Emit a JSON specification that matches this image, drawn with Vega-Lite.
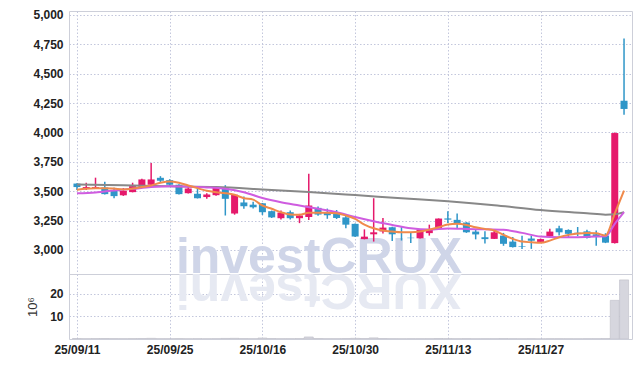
{
  "$schema": "https://vega.github.io/schema/vega-lite/v6.json",
  "background": "white",
  "padding": {"left": 26, "top": 8, "right": 9, "bottom": 5},
  "spacing": 0,
  "bounds": "flush",
  "config": {
    "view": {"stroke": "#cdcfd9", "strokeWidth": 1},
    "axis": {
      "labelFont": "Liberation Sans", "labelFontWeight": "bold", "labelFontSize": 12,
      "labelColor": "#222222", "ticks": false, "domain": false,
      "gridColor": "#c3c7dc", "gridDash": [1.5, 2], "gridWidth": 1, "labelPadding": 6
    }
  },
  "datasets": {
    "k": [
      {"d":"25/09/11","i":0,"o":3565,"h":3568,"l":3510,"c":3535,"v":0.20},
      {"d":"25/09/12","i":1,"o":3520,"h":3572,"l":3510,"c":3535,"v":0.15},
      {"d":"25/09/15","i":2,"o":3525,"h":3615,"l":3522,"c":3535,"v":0.18},
      {"d":"25/09/16","i":3,"o":3532,"h":3580,"l":3472,"c":3475,"v":0.22},
      {"d":"25/09/17","i":4,"o":3503,"h":3530,"l":3440,"c":3458,"v":0.16},
      {"d":"25/09/18","i":5,"o":3465,"h":3527,"l":3460,"c":3503,"v":0.14},
      {"d":"25/09/19","i":6,"o":3492,"h":3572,"l":3490,"c":3543,"v":0.17},
      {"d":"25/09/22","i":7,"o":3537,"h":3605,"l":3535,"c":3600,"v":0.20},
      {"d":"25/09/23","i":8,"o":3555,"h":3740,"l":3548,"c":3600,"v":0.30},
      {"d":"25/09/24","i":9,"o":3614,"h":3628,"l":3578,"c":3589,"v":0.15},
      {"d":"25/09/25","i":10,"o":3594,"h":3602,"l":3543,"c":3555,"v":0.14},
      {"d":"25/09/26","i":11,"o":3555,"h":3560,"l":3472,"c":3475,"v":0.18},
      {"d":"25/09/29","i":12,"o":3483,"h":3543,"l":3480,"c":3523,"v":0.12},
      {"d":"25/09/30","i":13,"o":3478,"h":3537,"l":3438,"c":3440,"v":0.15},
      {"d":"25/10/01","i":14,"o":3450,"h":3483,"l":3435,"c":3472,"v":0.12},
      {"d":"25/10/02","i":15,"o":3466,"h":3535,"l":3462,"c":3532,"v":0.14},
      {"d":"25/10/10","i":16,"o":3525,"h":3551,"l":3293,"c":3435,"v":0.25},
      {"d":"25/10/13","i":17,"o":3310,"h":3475,"l":3300,"c":3470,"v":0.30},
      {"d":"25/10/14","i":18,"o":3404,"h":3455,"l":3350,"c":3372,"v":0.18},
      {"d":"25/10/15","i":19,"o":3385,"h":3410,"l":3352,"c":3363,"v":0.15},
      {"d":"25/10/16","i":20,"o":3397,"h":3400,"l":3298,"c":3321,"v":0.45},
      {"d":"25/10/17","i":21,"o":3330,"h":3335,"l":3272,"c":3277,"v":0.20},
      {"d":"25/10/20","i":22,"o":3270,"h":3335,"l":3258,"c":3318,"v":0.15},
      {"d":"25/10/21","i":23,"o":3321,"h":3335,"l":3258,"c":3270,"v":0.14},
      {"d":"25/10/22","i":24,"o":3270,"h":3307,"l":3228,"c":3293,"v":0.16},
      {"d":"25/10/23","i":25,"o":3280,"h":3648,"l":3255,"c":3378,"v":0.90},
      {"d":"25/10/24","i":26,"o":3358,"h":3370,"l":3290,"c":3301,"v":0.22},
      {"d":"25/10/27","i":27,"o":3321,"h":3352,"l":3265,"c":3295,"v":0.15},
      {"d":"25/10/28","i":28,"o":3315,"h":3340,"l":3263,"c":3272,"v":0.14},
      {"d":"25/10/29","i":29,"o":3277,"h":3290,"l":3185,"c":3215,"v":0.20},
      {"d":"25/10/30","i":30,"o":3222,"h":3225,"l":3110,"c":3114,"v":0.30},
      {"d":"25/10/31","i":31,"o":3092,"h":3175,"l":3090,"c":3113,"v":0.20},
      {"d":"25/11/03","i":32,"o":3133,"h":3440,"l":3071,"c":3150,"v":0.50},
      {"d":"25/11/04","i":33,"o":3157,"h":3272,"l":3140,"c":3190,"v":0.20},
      {"d":"25/11/05","i":34,"o":3193,"h":3198,"l":3077,"c":3133,"v":0.15},
      {"d":"25/11/06","i":35,"o":3150,"h":3198,"l":3080,"c":3145,"v":0.12},
      {"d":"25/11/07","i":36,"o":3104,"h":3150,"l":3058,"c":3100,"v":0.14},
      {"d":"25/11/10","i":37,"o":3099,"h":3176,"l":3097,"c":3173,"v":0.15},
      {"d":"25/11/11","i":38,"o":3143,"h":3215,"l":3122,"c":3173,"v":0.14},
      {"d":"25/11/12","i":39,"o":3181,"h":3268,"l":3180,"c":3267,"v":0.20},
      {"d":"25/11/13","i":40,"o":3268,"h":3330,"l":3230,"c":3258,"v":0.18},
      {"d":"25/11/14","i":41,"o":3256,"h":3310,"l":3178,"c":3222,"v":0.15},
      {"d":"25/11/17","i":42,"o":3233,"h":3236,"l":3145,"c":3150,"v":0.16},
      {"d":"25/11/18","i":43,"o":3156,"h":3175,"l":3090,"c":3132,"v":0.12},
      {"d":"25/11/19","i":44,"o":3108,"h":3158,"l":3055,"c":3092,"v":0.14},
      {"d":"25/11/20","i":45,"o":3094,"h":3165,"l":3092,"c":3150,"v":0.15},
      {"d":"25/11/21","i":46,"o":3122,"h":3145,"l":3035,"c":3052,"v":0.18},
      {"d":"25/11/24","i":47,"o":3071,"h":3110,"l":3020,"c":3024,"v":0.14},
      {"d":"25/11/25","i":48,"o":3033,"h":3120,"l":3008,"c":3028,"v":0.12},
      {"d":"25/11/26","i":49,"o":3097,"h":3122,"l":3009,"c":3078,"v":0.14},
      {"d":"25/11/27","i":50,"o":3068,"h":3097,"l":3064,"c":3092,"v":0.10},
      {"d":"25/11/28","i":51,"o":3117,"h":3180,"l":3108,"c":3156,"v":0.15},
      {"d":"25/12/01","i":52,"o":3184,"h":3205,"l":3122,"c":3150,"v":0.14},
      {"d":"25/12/02","i":53,"o":3170,"h":3175,"l":3110,"c":3137,"v":0.12},
      {"d":"25/12/03","i":54,"o":3147,"h":3195,"l":3118,"c":3142,"v":0.10},
      {"d":"25/12/04","i":55,"o":3158,"h":3172,"l":3098,"c":3102,"v":0.14},
      {"d":"25/12/05","i":56,"o":3133,"h":3165,"l":3036,"c":3112,"v":0.15},
      {"d":"25/12/08","i":57,"o":3122,"h":3142,"l":3058,"c":3062,"v":0.18},
      {"d":"25/12/09","i":58,"o":3058,"h":4000,"l":3055,"c":3995,"v":17.0},
      {"d":"25/12/10","i":59,"o":4270,"h":4800,"l":4150,"c":4200,"v":26.0}
    ],
    "ma": [
      {"s":"MA60","i":0,"v":3558},{"s":"MA60","i":5,"v":3550},{"s":"MA60","i":10,"v":3542},{"s":"MA60","i":15,"v":3535},
      {"s":"MA60","i":20,"v":3515},{"s":"MA60","i":25,"v":3493},{"s":"MA60","i":30,"v":3467},{"s":"MA60","i":35,"v":3440},
      {"s":"MA60","i":40,"v":3414},{"s":"MA60","i":45,"v":3381},{"s":"MA60","i":50,"v":3340},{"s":"MA60","i":55,"v":3312},
      {"s":"MA60","i":57,"v":3300},{"s":"MA60","i":58,"v":3303},{"s":"MA60","i":59,"v":3322},
      {"s":"MA20","i":0,"v":3482},{"s":"MA20","i":2,"v":3489},{"s":"MA20","i":4,"v":3506},{"s":"MA20","i":6,"v":3520},
      {"s":"MA20","i":8,"v":3535},{"s":"MA20","i":10,"v":3542},{"s":"MA20","i":12,"v":3538},{"s":"MA20","i":14,"v":3532},
      {"s":"MA20","i":16,"v":3520},{"s":"MA20","i":18,"v":3491},{"s":"MA20","i":20,"v":3442},{"s":"MA20","i":22,"v":3406},
      {"s":"MA20","i":24,"v":3378},{"s":"MA20","i":26,"v":3350},{"s":"MA20","i":28,"v":3321},{"s":"MA20","i":30,"v":3280},
      {"s":"MA20","i":32,"v":3244},{"s":"MA20","i":34,"v":3213},{"s":"MA20","i":36,"v":3184},{"s":"MA20","i":38,"v":3173},
      {"s":"MA20","i":40,"v":3182},{"s":"MA20","i":42,"v":3179},{"s":"MA20","i":44,"v":3175},{"s":"MA20","i":46,"v":3172},
      {"s":"MA20","i":48,"v":3145},{"s":"MA20","i":50,"v":3114},{"s":"MA20","i":52,"v":3108},{"s":"MA20","i":54,"v":3108},
      {"s":"MA20","i":56,"v":3114},{"s":"MA20","i":57,"v":3116},{"s":"MA20","i":58,"v":3222},{"s":"MA20","i":59,"v":3321},
      {"s":"MA5","i":0,"v":3512},{"s":"MA5","i":1,"v":3520},{"s":"MA5","i":2,"v":3524},{"s":"MA5","i":3,"v":3526},
      {"s":"MA5","i":4,"v":3522},{"s":"MA5","i":5,"v":3515},{"s":"MA5","i":6,"v":3522},{"s":"MA5","i":7,"v":3535},
      {"s":"MA5","i":8,"v":3549},{"s":"MA5","i":9,"v":3572},{"s":"MA5","i":10,"v":3583},{"s":"MA5","i":11,"v":3572},
      {"s":"MA5","i":12,"v":3549},{"s":"MA5","i":13,"v":3526},{"s":"MA5","i":14,"v":3503},{"s":"MA5","i":15,"v":3491},
      {"s":"MA5","i":16,"v":3483},{"s":"MA5","i":17,"v":3469},{"s":"MA5","i":18,"v":3440},{"s":"MA5","i":19,"v":3428},
      {"s":"MA5","i":20,"v":3378},{"s":"MA5","i":21,"v":3350},{"s":"MA5","i":22,"v":3321},{"s":"MA5","i":23,"v":3301},
      {"s":"MA5","i":24,"v":3299},{"s":"MA5","i":25,"v":3316},{"s":"MA5","i":26,"v":3316},{"s":"MA5","i":27,"v":3316},
      {"s":"MA5","i":28,"v":3312},{"s":"MA5","i":29,"v":3293},{"s":"MA5","i":30,"v":3264},{"s":"MA5","i":31,"v":3216},
      {"s":"MA5","i":32,"v":3184},{"s":"MA5","i":33,"v":3165},{"s":"MA5","i":34,"v":3156},{"s":"MA5","i":35,"v":3150},
      {"s":"MA5","i":36,"v":3150},{"s":"MA5","i":37,"v":3156},{"s":"MA5","i":38,"v":3173},{"s":"MA5","i":39,"v":3193},
      {"s":"MA5","i":40,"v":3216},{"s":"MA5","i":41,"v":3222},{"s":"MA5","i":42,"v":3213},{"s":"MA5","i":43,"v":3193},
      {"s":"MA5","i":44,"v":3179},{"s":"MA5","i":45,"v":3165},{"s":"MA5","i":46,"v":3128},{"s":"MA5","i":47,"v":3094},
      {"s":"MA5","i":48,"v":3071},{"s":"MA5","i":49,"v":3065},{"s":"MA5","i":50,"v":3060},{"s":"MA5","i":51,"v":3079},
      {"s":"MA5","i":52,"v":3108},{"s":"MA5","i":53,"v":3128},{"s":"MA5","i":54,"v":3139},{"s":"MA5","i":55,"v":3145},
      {"s":"MA5","i":56,"v":3142},{"s":"MA5","i":57,"v":3122},{"s":"MA5","i":58,"v":3310},{"s":"MA5","i":59,"v":3505}
    ],
    "wm": [{"t":"investCRUX","r":"XURCtsevni","i":26.1,"p":2800,"q":28.6}]
  },
  "vconcat": [
    {
      "width": 563,
      "height": 263,
      "encoding": {
        "x": {"field": "i", "type": "quantitative",
              "scale": {"domain": [-0.32, 59.32], "nice": false, "zero": false},
              "axis": {"title": null, "labels": false, "values": [0, 10, 20, 30, 40, 50], "grid": true}}
      },
      "layer": [
        {
          "data": {"name": "wm"},
          "mark": {"type": "text", "font": "Liberation Sans", "fontWeight": "bold", "fontSize": 50,
                   "color": "#cfd5e8", "align": "center", "baseline": "alphabetic"},
          "encoding": {
            "y": {"field": "p", "type": "quantitative",
                  "scale": {"domain": [2795, 5034], "nice": false, "zero": false},
                  "axis": {"title": null, "values": [3000, 3250, 3500, 3750, 4000, 4250, 4500, 4750, 5000], "format": ",.0f", "grid": true}},
            "text": {"field": "t"}
          }
        },
        {
          "data": {"name": "k"},
          "mark": {"type": "rule", "strokeWidth": 1.5},
          "encoding": {
            "y": {"field": "l", "type": "quantitative", "scale": {"domain": [2795, 5034], "nice": false, "zero": false},
                  "axis": {"title": null, "values": [3000, 3250, 3500, 3750, 4000, 4250, 4500, 4750, 5000], "format": ",.0f", "grid": true}},
            "y2": {"field": "h"},
            "color": {"condition": {"test": "datum.c > datum.o", "value": "#e5196b"}, "value": "#2f96c8"}
          }
        },
        {
          "data": {"name": "k"},
          "mark": {"type": "bar", "size": 7},
          "encoding": {
            "y": {"field": "o", "type": "quantitative", "scale": {"domain": [2795, 5034], "nice": false, "zero": false},
                  "axis": {"title": null, "values": [3000, 3250, 3500, 3750, 4000, 4250, 4500, 4750, 5000], "format": ",.0f", "grid": true}},
            "y2": {"field": "c"},
            "color": {"condition": {"test": "datum.c > datum.o", "value": "#e5196b"}, "value": "#2f96c8"}
          }
        },
        {
          "data": {"name": "ma"},
          "mark": {"type": "line", "strokeWidth": 2, "interpolate": "monotone"},
          "encoding": {
            "y": {"field": "v", "type": "quantitative", "scale": {"domain": [2795, 5034], "nice": false, "zero": false},
                  "axis": {"title": null, "values": [3000, 3250, 3500, 3750, 4000, 4250, 4500, 4750, 5000], "format": ",.0f", "grid": true}},
            "color": {"field": "s", "type": "nominal", "legend": null,
                      "scale": {"domain": ["MA60", "MA20", "MA5"], "range": ["#888888", "#cf5ce0", "#f08a4b"]}},
            "order": {"field": "i"}
          }
        }
      ]
    },
    {
      "width": 563,
      "height": 65,
      "encoding": {
        "x": {"field": "i", "type": "quantitative",
              "scale": {"domain": [-0.32, 59.32], "nice": false, "zero": false},
              "axis": {"title": null, "values": [0, 10, 20, 30, 40, 50], "grid": true, "labelPadding": 5,
                       "labelExpr": "['25/09/11','25/09/25','25/10/16','25/10/30','25/11/13','25/11/27'][round(datum.value/10)]"}}
      },
      "layer": [
        {
          "data": {"name": "wm"},
          "mark": {"type": "text", "font": "Liberation Sans", "fontWeight": "bold", "fontSize": 50, "clip": true,
                   "color": "#e6e9f2", "align": "center", "baseline": "alphabetic", "angle": 180},
          "encoding": {
            "y": {"field": "q", "type": "quantitative",
                  "scale": {"domain": [0, 28.6], "nice": false, "zero": true},
                  "axis": {"title": "10⁶", "values": [10, 20], "grid": true, "titleFont": "Liberation Sans",
                           "titleFontWeight": "normal", "titleFontSize": 13, "titleColor": "#333333", "titlePadding": 10}},
            "text": {"field": "r"}
          }
        },
        {
          "data": {"name": "k"},
          "mark": {"type": "bar", "size": 9, "color": "#d6d6de", "stroke": "#bdbdc8", "strokeWidth": 0.6, "clip": true},
          "encoding": {
            "y": {"field": "v", "type": "quantitative", "scale": {"domain": [0, 28.6], "nice": false, "zero": true},
                  "axis": {"title": "10⁶", "values": [10, 20], "grid": true, "titleFont": "Liberation Sans",
                           "titleFontWeight": "normal", "titleFontSize": 13, "titleColor": "#333333", "titlePadding": 10}}
          }
        }
      ]
    }
  ]
}
